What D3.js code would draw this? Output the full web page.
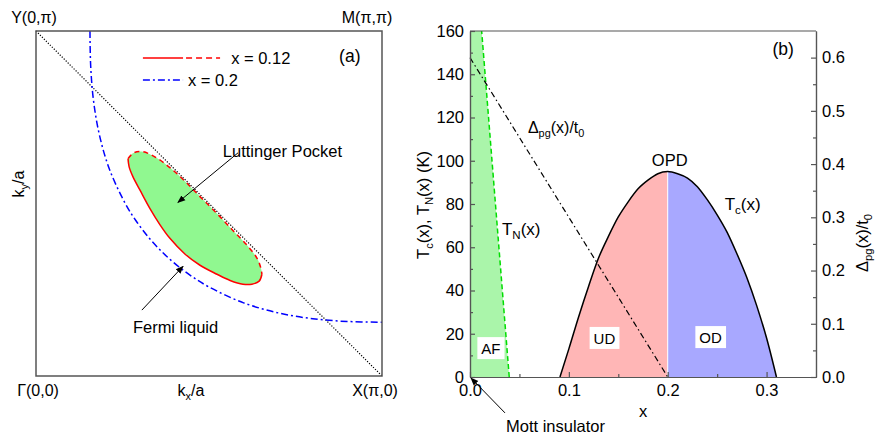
<!DOCTYPE html>
<html>
<head>
<meta charset="utf-8">
<script src="https://cdn.jsdelivr.net/npm/d3@7"></script>
<style>
  body { margin: 0; background: #fff; }
  svg text { font-family: "Liberation Sans", Arial, sans-serif; fill: #000; }
</style>
</head>
<body>
<svg id="chart" width="875" height="435"></svg>
<script>
// ---- panel (a) data, k in units of pi ----
const diagKx = [0, 1];
const diagKy = [1, 0];

// Fermi surface x = 0.2
const fsKx = [0.156, 0.158, 0.166, 0.183, 0.212, 0.258, 0.289, 0.327, 0.362, 0.400, 0.450, 0.500, 0.600, 0.700, 0.800, 0.900, 1.000];
const fsKy = [1.000, 0.900, 0.800, 0.700, 0.600, 0.500, 0.450, 0.400, 0.362, 0.327, 0.289, 0.258, 0.212, 0.183, 0.166, 0.158, 0.156];

// Luttinger pocket x = 0.12, upper (dashed) and lower (solid) halves
const pocketUpKx = [0.266, 0.283, 0.309, 0.347, 0.387, 0.431, 0.474, 0.523, 0.569, 0.610, 0.639, 0.650, 0.653];
const pocketUpKy = [0.630, 0.647, 0.650, 0.633, 0.604, 0.564, 0.520, 0.471, 0.422, 0.379, 0.341, 0.312, 0.295];
const pocketLoKx = [0.653, 0.645, 0.624, 0.598, 0.561, 0.523, 0.474, 0.431, 0.387, 0.358, 0.329, 0.301, 0.280, 0.269, 0.266];
const pocketLoKy = [0.295, 0.275, 0.266, 0.266, 0.277, 0.295, 0.321, 0.353, 0.399, 0.439, 0.486, 0.538, 0.578, 0.607, 0.630];

// ---- panel (b) data ----
const tcX = [0.091, 0.10, 0.11, 0.12, 0.13, 0.14, 0.15, 0.16, 0.17, 0.18, 0.19, 0.20, 0.21, 0.22, 0.23, 0.24, 0.25, 0.26, 0.27, 0.28, 0.29, 0.30, 0.31];
const tcT = [0, 13, 28, 42, 55, 65, 74, 81, 87, 91, 94, 95, 94, 92, 88, 82, 75, 67, 57, 46, 33, 18, 0];
const tnX = [0.0397, 0.0118];
const tnT = [0, 160];
const pgX = [0, 0.2];
const pgD = [0.6, 0];
const xOpt = 0.2;

const leftTicks = [0, 20, 40, 60, 80, 100, 120, 140, 160];
const leftMinor = [10, 30, 50, 70, 90, 110, 130, 150];
const bottomTicks = [0, 0.1, 0.2, 0.3];
const bottomMinor = [0.05, 0.15, 0.25];
const rightTicks = [0, 0.1, 0.2, 0.3, 0.4, 0.5, 0.6];
const rightMinor = [0.05, 0.15, 0.25, 0.35, 0.45, 0.55];

const svg = d3.select("#chart");
const axisColor = "#555";
const fs = 16.5;

// text with subscripts: parts = [[str, isSub], ...]
const richText = (g, x, y, parts, size, anchor) => {
	const t = g.append("text").attr("x", x).attr("y", y).attr("font-size", size).attr("text-anchor", anchor || "start");
	let down = false;
	parts.forEach(([s, sub]) => {
		const sp = t.append("tspan").text(s);
		if (sub && !down) { sp.attr("dy", 4).attr("font-size", size * 0.68); down = true; }
		else if (sub) { sp.attr("font-size", size * 0.68); }
		else if (down) { sp.attr("dy", -4); down = false; }
	});
	return t;
};

const defs = svg.append("defs");
defs.append("marker").attr("id", "arrow")
	.attr("viewBox", "0 0 10 10").attr("refX", 9).attr("refY", 5)
	.attr("markerWidth", 8).attr("markerHeight", 8).attr("markerUnits", "userSpaceOnUse")
	.attr("orient", "auto")
	.append("path").attr("d", "M0,1 L10,5 L0,9 Z").attr("fill", "#000");

// ================= panel (a) =================
const xA = d3.scaleLinear().domain([0, 1]).range([36, 382]);
const yA = d3.scaleLinear().domain([0, 1]).range([376, 31]);
const gA = svg.append("g");

const lineA = d3.line().x(d => xA(d[0])).y(d => yA(d[1])).curve(d3.curveCatmullRom);

const pocketPts = d3.zip(pocketUpKx, pocketUpKy).concat(d3.zip(pocketLoKx, pocketLoKy).slice(1, -1));
gA.append("path")
	.attr("d", d3.line().x(d => xA(d[0])).y(d => yA(d[1])).curve(d3.curveCatmullRomClosed)(pocketPts))
	.attr("fill", "#90f890");

gA.append("path").attr("d", lineA(d3.zip(pocketLoKx, pocketLoKy)))
	.attr("fill", "none").attr("stroke", "#f00").attr("stroke-width", 1.5);
gA.append("path").attr("d", lineA(d3.zip(pocketUpKx, pocketUpKy)))
	.attr("fill", "none").attr("stroke", "#f00").attr("stroke-width", 1.5).attr("stroke-dasharray", "5,4");

gA.append("path").attr("d", d3.line().x(d => xA(d[0])).y(d => yA(d[1]))(d3.zip(diagKx, diagKy)))
	.attr("fill", "none").attr("stroke", "#000").attr("stroke-width", 1.2).attr("stroke-dasharray", "1.2,1.6");

gA.append("path").attr("d", lineA(d3.zip(fsKx, fsKy)))
	.attr("fill", "none").attr("stroke", "#0000ff").attr("stroke-width", 1.5).attr("stroke-dasharray", "7,3,2,3");

gA.append("rect")
	.attr("x", xA(0)).attr("y", yA(1)).attr("width", xA(1) - xA(0)).attr("height", yA(0) - yA(1))
	.attr("fill", "none").attr("stroke", axisColor).attr("stroke-width", 1.5);

// legend
gA.append("line").attr("x1", xA(0.309)).attr("x2", xA(0.425)).attr("y1", yA(0.922)).attr("y2", yA(0.922))
	.attr("stroke", "#f00").attr("stroke-width", 1.5);
gA.append("line").attr("x1", xA(0.425)).attr("x2", xA(0.532)).attr("y1", yA(0.922)).attr("y2", yA(0.922))
	.attr("stroke", "#f00").attr("stroke-width", 1.5).attr("stroke-dasharray", "6,4").attr("stroke-dashoffset", -3);
gA.append("text").attr("x", xA(0.564)).attr("y", yA(0.922) + 6).attr("font-size", fs).text("x = 0.12");
gA.append("line").attr("x1", xA(0.309)).attr("x2", xA(0.425)).attr("y1", yA(0.858)).attr("y2", yA(0.858))
	.attr("stroke", "#0000ff").attr("stroke-width", 1.5).attr("stroke-dasharray", "7,3,2,3");
gA.append("text").attr("x", xA(0.439)).attr("y", yA(0.858) + 6).attr("font-size", fs).text("x = 0.2");
gA.append("text").attr("x", xA(0.876)).attr("y", yA(0.928) + 6).attr("font-size", 17.5).text("(a)");

// corner labels
gA.append("text").attr("x", 34).attr("y", 23).attr("font-size", 16).attr("text-anchor", "middle").text("Y(0,π)");
gA.append("text").attr("x", 367).attr("y", 23).attr("font-size", 16).attr("text-anchor", "middle").text("M(π,π)");
gA.append("text").attr("x", 38).attr("y", 396).attr("font-size", 16).attr("text-anchor", "middle").text("Γ(0,0)");
gA.append("text").attr("x", 375).attr("y", 396).attr("font-size", 16).attr("text-anchor", "middle").text("X(π,0)");
richText(gA, 191, 396, [["k", 0], ["x", 1], ["/a", 0]], 16, "middle");
richText(gA.append("g").attr("transform", "translate(24,184) rotate(-90)"), 0, 0, [["k", 0], ["y", 1], ["/a", 0]], 16, "middle");

// annotations
gA.append("text").attr("x", xA(0.540)).attr("y", yA(0.653) + 6).attr("font-size", fs).text("Luttinger Pocket");
gA.append("line").attr("x1", xA(0.584)).attr("y1", yA(0.647)).attr("x2", xA(0.410)).attr("y2", yA(0.503))
	.attr("stroke", "#000").attr("stroke-width", 1).attr("marker-end", "url(#arrow)");
gA.append("text").attr("x", xA(0.280)).attr("y", yA(0.142) + 6).attr("font-size", fs).text("Fermi liquid");
gA.append("line").attr("x1", xA(0.306)).attr("y1", yA(0.191)).attr("x2", xA(0.425)).attr("y2", yA(0.318))
	.attr("stroke", "#000").attr("stroke-width", 1).attr("marker-end", "url(#arrow)");

// ================= panel (b) =================
const xB = d3.scaleLinear().domain([0, 0.35]).range([470, 816]);
const yB = d3.scaleLinear().domain([0, 160]).range([377, 31]);
const yR = d3.scaleLinear().domain([0, 0.65]).range([377, 31]);
const gB = svg.append("g");

// AF region
const tnPts = d3.zip(tnX, tnT);
gB.append("path")
	.attr("d", d3.line().x(d => xB(d[0])).y(d => yB(d[1]))([[0, 0]].concat(tnPts, [[0, 160]])))
	.attr("fill", "#aaf5aa");

// superconducting dome
const tcPts = d3.zip(tcX, tcT);
const area = d3.area().x(d => xB(d[0])).y0(yB(0)).y1(d => yB(d[1])).curve(d3.curveMonotoneX);
gB.append("path").attr("d", area(tcPts.filter(d => d[0] <= xOpt))).attr("fill", "#ffb6b6");
gB.append("path").attr("d", area(tcPts.filter(d => d[0] >= xOpt))).attr("fill", "#a8a8ff");
gB.append("line").attr("x1", xB(xOpt)).attr("x2", xB(xOpt)).attr("y1", yB(0)).attr("y2", yB(tcT[tcX.indexOf(xOpt)]))
	.attr("stroke", "#fff").attr("stroke-width", 1);
gB.append("path").attr("d", d3.line().x(d => xB(d[0])).y(d => yB(d[1])).curve(d3.curveMonotoneX)(tcPts))
	.attr("fill", "none").attr("stroke", "#000").attr("stroke-width", 1.5);

// Neel line
gB.append("path").attr("d", d3.line().x(d => xB(d[0])).y(d => yB(d[1]))(tnPts))
	.attr("fill", "none").attr("stroke", "#00dd00").attr("stroke-width", 1.5).attr("stroke-dasharray", "5,3");

// pseudogap line (right axis)
gB.append("path").attr("d", d3.line().x(d => xB(d[0])).y(d => yR(d[1]))(d3.zip(pgX, pgD)))
	.attr("fill", "none").attr("stroke", "#000").attr("stroke-width", 1.2).attr("stroke-dasharray", "6,3,1.5,3");

// axes
const fmt1 = d3.format(".1f");
const styleAxis = (g) => {
	g.selectAll("path, line").attr("stroke", axisColor).attr("stroke-width", 1.2);
	g.selectAll("text").attr("font-size", fs).attr("font-family", "Liberation Sans, Arial, sans-serif").attr("fill", "#000");
};
gB.append("g").attr("transform", `translate(${xB(0)},0)`)
	.call(d3.axisLeft(yB).tickValues(leftTicks).tickSizeInner(-5).tickSizeOuter(0).tickPadding(6)).call(styleAxis);
gB.append("g").attr("transform", `translate(${xB(0)},0)`)
	.call(d3.axisLeft(yB).tickValues(leftMinor).tickSizeInner(-3).tickSizeOuter(0).tickFormat("")).call(styleAxis);
gB.append("g").attr("transform", `translate(${xB(0.35)},0)`)
	.call(d3.axisRight(yR).tickValues(rightTicks).tickSizeInner(-5).tickSizeOuter(0).tickPadding(6).tickFormat(fmt1)).call(styleAxis);
gB.append("g").attr("transform", `translate(${xB(0.35)},0)`)
	.call(d3.axisRight(yR).tickValues(rightMinor).tickSizeInner(-3).tickSizeOuter(0).tickFormat("")).call(styleAxis);
gB.append("g").attr("transform", `translate(0,${yB(0)})`)
	.call(d3.axisBottom(xB).tickValues(bottomTicks).tickSizeInner(-5).tickSizeOuter(0).tickPadding(7).tickFormat(fmt1)).call(styleAxis);
gB.append("g").attr("transform", `translate(0,${yB(0)})`)
	.call(d3.axisBottom(xB).tickValues(bottomMinor).tickSizeInner(-3).tickSizeOuter(0).tickFormat("")).call(styleAxis);
gB.append("line").attr("x1", xB(0)).attr("x2", xB(0.35)).attr("y1", yB(160)).attr("y2", yB(160))
	.attr("stroke", axisColor).attr("stroke-width", 1.2);

// axis titles
gB.append("text").attr("x", xB(0.175)).attr("y", 417).attr("font-size", fs).attr("text-anchor", "middle").text("x");
richText(gB.append("g").attr("transform", "translate(429,205) rotate(-90)"), 0, 0,
	[["T", 0], ["c", 1], ["(x), T", 0], ["N", 1], ["(x) (K)", 0]], fs, "middle");
richText(gB.append("g").attr("transform", "translate(868,243) rotate(-90)"), 0, 0,
	[["Δ", 0], ["pg", 1], ["(x)/t", 0], ["0", 1]], fs, "middle");

// labels
gB.append("text").attr("x", xB(0.306)).attr("y", yB(148.9)).attr("font-size", 17.5).text("(b)");
richText(gB, xB(0.0586), yB(112.8), [["Δ", 0], ["pg", 1], ["(x)/t", 0], ["0", 1]], 16);
gB.append("text").attr("x", xB(0.202)).attr("y", yB(97.6)).attr("font-size", fs).attr("text-anchor", "middle").text("OPD");
richText(gB, xB(0.2576), yB(77.2), [["T", 0], ["c", 1], ["(x)", 0]], 17);
richText(gB, xB(0.0323), yB(65.7), [["T", 0], ["N", 1], ["(x)", 0]], 17);

const boxLabel = (txt, x, t) => {
	const g = gB.append("g");
	const tx = g.append("text").attr("x", xB(x)).attr("y", yB(t) + 5).attr("font-size", 15)
		.attr("text-anchor", "middle").text(txt);
	const bb = tx.node().getBBox();
	g.insert("rect", "text").attr("x", bb.x - 4).attr("y", bb.y - 3).attr("width", bb.width + 8).attr("height", bb.height + 5)
		.attr("fill", "#fff");
};
boxLabel("AF", 0.0212, 12.9);
boxLabel("UD", 0.136, 17.6);
boxLabel("OD", 0.2434, 18.0);

gB.append("text").attr("x", xB(0.0364)).attr("y", 432).attr("font-size", fs).text("Mott insulator");
gB.append("line").attr("x1", xB(0.0354)).attr("y1", yB(-16.6)).attr("x2", xB(0.001)).attr("y2", yB(-0.46))
	.attr("stroke", "#000").attr("stroke-width", 1).attr("marker-end", "url(#arrow)");
</script>
</body>
</html>
